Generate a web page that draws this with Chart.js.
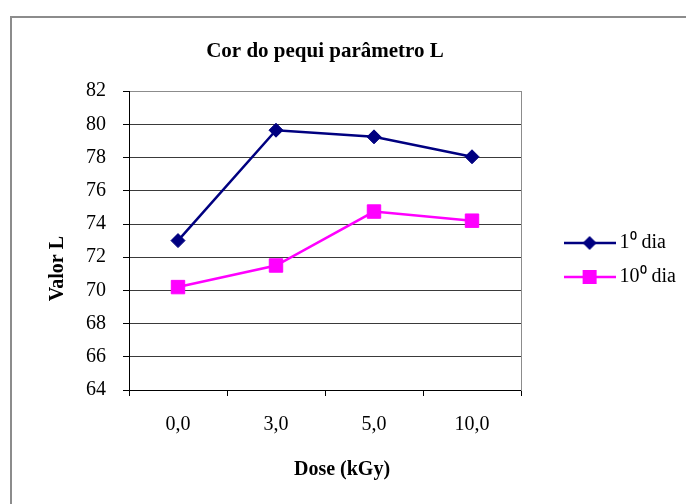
<!DOCTYPE html>
<html>
<head>
<meta charset="utf-8">
<script src="https://cdn.jsdelivr.net/npm/chart.js@4"></script>
<style>
  html, body { margin: 0; padding: 0; background: #fff; }
</style>
</head>
<body>
<canvas id="chart" width="686" height="504"></canvas>
<script>
// values
const doseLabels = ['0,0', '3,0', '5,0', '10,0'];
const dia1 = [73.0, 79.65, 79.25, 78.05];
const dia10 = [70.2, 71.5, 74.75, 74.2];
const yTicks = { min: 64, max: 82, step: 2 };

const xTitle = 'Dose (kGy)';
const yTitle = 'Valor L';

const serif = "'Liberation Serif', 'Times New Roman', serif";
const plotRight = 521;

// little line + marker picture used as the legend symbol (Excel style)
function legendIcon(color, style) {
  const c = document.createElement('canvas');
  c.width = 52;
  c.height = 20;
  const g = c.getContext('2d');
  g.strokeStyle = color;
  g.lineWidth = 2.5;
  g.beginPath();
  g.moveTo(0, 10);
  g.lineTo(52, 10);
  g.stroke();
  g.fillStyle = color;
  g.beginPath();
  if (style === 'rectRot') {
    g.moveTo(26 - 7, 10);
    g.lineTo(26, 3);
    g.lineTo(26 + 7, 10);
    g.lineTo(26, 17);
  } else {
    g.rect(26 - 7, 3, 14, 14);
  }
  g.closePath();
  g.fill();
  return c;
}

// white page with the grey frame round it
const framePlugin = {
  id: 'frame',
  beforeDraw(chart) {
    const ctx = chart.ctx;
    ctx.save();
    ctx.fillStyle = '#fff';
    ctx.fillRect(0, 0, chart.width, chart.height);
    ctx.strokeStyle = '#8c8c8c';
    ctx.lineWidth = 2;
    ctx.strokeRect(11, 17, chart.width + 20, chart.height + 20);
    ctx.restore();
  }
};

// axis titles sit off-centre in the original, so place them by hand
const axisTitlePlugin = {
  id: 'axisTitles',
  afterDraw(chart) {
    const { ctx, chartArea } = chart;
    ctx.save();
    ctx.fillStyle = '#000';
    ctx.font = 'bold 20px ' + serif;
    ctx.textAlign = 'center';
    ctx.textBaseline = 'middle';
    ctx.fillText(xTitle, (chartArea.left + chartArea.right) / 2 + 17, 470);
    ctx.translate(58, (chartArea.top + chartArea.bottom) / 2 + 28);
    ctx.rotate(-Math.PI / 2);
    ctx.fillText(yTitle, 0, 0);
    ctx.restore();
  }
};

const icons = [legendIcon('#000080', 'rectRot'), legendIcon('#ff00ff', 'rect')];

new Chart(document.getElementById('chart'), {
  type: 'line',
  data: {
    labels: doseLabels,
    datasets: [
      {
        label: '1\u2070 dia',
        data: dia1,
        borderColor: '#000080',
        backgroundColor: '#000080',
        borderWidth: 2.5,
        pointStyle: 'rectRot',
        pointRadius: 7,
        pointBorderWidth: 1,
        tension: 0,
        fill: false
      },
      {
        label: '10\u2070 dia',
        data: dia10,
        borderColor: '#ff00ff',
        backgroundColor: '#ff00ff',
        borderWidth: 2.5,
        pointStyle: 'rect',
        pointRadius: 9.5,
        pointBorderWidth: 1,
        tension: 0,
        fill: false
      }
    ]
  },
  options: {
    responsive: false,
    animation: false,
    devicePixelRatio: 1,
    layout: { padding: { top: 16, left: 0, right: 0, bottom: 0 } },
    plugins: {
      tooltip: { enabled: false },
      title: {
        display: true,
        fullSize: false,
        text: 'Cor do pequi parâmetro L',
        color: '#000',
        font: { family: serif, size: 21, weight: 'bold' },
        padding: { top: 23, bottom: 27 }
      },
      legend: {
        position: 'right',
        maxWidth: 200,
        labels: {
          color: '#000',
          font: { family: serif, size: 20 },
          usePointStyle: true,
          pointStyleWidth: 40,
          padding: 14,
          generateLabels: (chart) =>
            Chart.defaults.plugins.legend.labels.generateLabels(chart).map((item, i) => ({
              ...item,
              pointStyle: icons[i]
            }))
        }
      }
    },
    scales: {
      x: {
        offset: true,
        ticks: { color: '#000', font: { family: serif, size: 20 }, padding: 17 },
        grid: { offset: true, drawOnChartArea: false, tickLength: 6, tickColor: '#000' },
        border: { color: '#000', width: 1 },
        afterFit: (s) => { s.height = 114; }
      },
      y: {
        min: yTicks.min,
        max: yTicks.max,
        ticks: { stepSize: yTicks.step, color: '#000', font: { family: serif, size: 20 }, padding: 17 },
        grid: {
          tickLength: 6,
          tickColor: '#000',
          color: (c) => (c.tick && c.tick.value === yTicks.max ? '#8c8c8c' : '#3a3a3a')
        },
        border: { color: '#000', width: 1 },
        afterFit: (s) => { s.width = 129; }
      },
      // empty scale on the right: keeps the gap before the legend and draws the grey plot edge
      edge: {
        type: 'linear',
        position: 'right',
        ticks: { display: false },
        grid: { display: false },
        border: { display: true, color: '#8c8c8c', width: 1 },
        afterFit: (s) => { s.width = Math.max(0, s.chart.width - s.chart.legend.width - plotRight); }
      }
    }
  },
  plugins: [framePlugin, axisTitlePlugin]
});
</script>
</body>
</html>
